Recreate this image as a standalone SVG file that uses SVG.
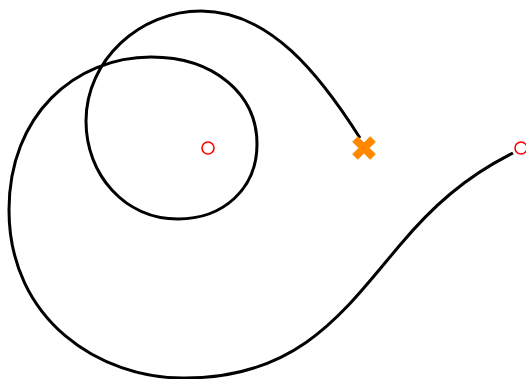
<svg xmlns="http://www.w3.org/2000/svg" width="526" height="379" viewBox="0 0 526 379">
<style>
.curve{fill:none;stroke:#000;stroke-width:3;stroke-linecap:butt;stroke-linejoin:round}
.pt{fill:none;stroke:#ff0000;stroke-width:1.6}
.x{stroke:#ff8800;stroke-width:8;stroke-linecap:butt}
</style>
<rect width="526" height="379" fill="#fff"/>
<g id="connectors">
<path class="curve" d="M513,153 C465,177 432,207 400,245 C345,310 300,378 185,378 C100,379 9,320 9,210 C9,115 75,57 151,57 C215,57 257,95 257,144 C257,190 222,219 178,219 C125,219 86,175 86,121 C86,60 140,11 201,11 C270,11 320,75 360,138"/>
</g>
<g id="center"><circle class="pt" cx="208" cy="148" r="6"/></g>
<g id="start"><circle class="pt" cx="521" cy="148" r="6"/></g>
<g id="end"><path class="x" d="M355,139 L373,157 M373,139 L355,157"/></g>
</svg>
